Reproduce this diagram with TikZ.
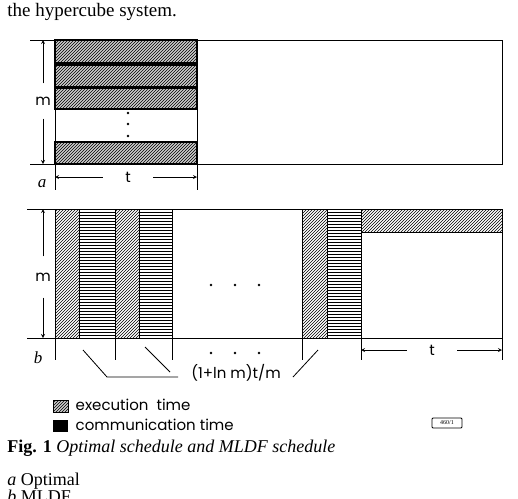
\documentclass[tikz,border=0pt]{standalone}
\usepackage{fontspec}
\setmainfont{Liberation Serif}
\setsansfont{Poppins}
\usetikzlibrary{patterns}

\tikzset{
	exec/.style={draw, thick, pattern=north east lines},
	execdark/.style={draw, very thick, fill=gray!40, postaction={pattern=north east lines}},
	comm/.style={draw, thick, pattern=horizontal lines},
	dim/.style={->, >=stealth},
	lbl/.style={font=\sffamily\fontsize{15}{15}\selectfont},
	serifbig/.style={font=\fontsize{18}{18}\selectfont, inner sep=0pt},
}

\begin{document}
\begin{tikzpicture}[x=1pt,y=-1pt,line width=0.8pt]
	\useasboundingbox (0,0) rectangle (518,498);
%
	\node[serifbig, font=\fontsize{19}{19}\selectfont, anchor=base west] (prevline) at (7,16) {the hypercube system.};
%
	% (a) optimal schedule
	\draw (30,40) -- (502,40) -- (502,164) -- (30,164);
	\draw (55,40) -- (55,190);
	\draw (197,40) -- (197,190);
	\foreach \ya/\yb in {40/63,65/87,88/109,142/164}
		\draw[execdark] (55,\ya) rectangle (197,\yb);
	\foreach \y in {113,124,136}
		\fill (128,\y) circle (1.4);
%
	\coordinate (mAtop) at (43,40);
	\coordinate (mAbot) at (43,164);
	\node[lbl, inner ysep=13pt] (mA) at (43,101) {m};
	\draw[dim] (mA) -- (mAtop);
	\draw[dim] (mA) -- (mAbot);
	\coordinate (tAleft) at (55,177);
	\coordinate (tAright) at (197,177);
	\node[lbl, inner xsep=22pt] (tA) at (128,177) {t};
	\draw[dim] (tA) -- (tAleft);
	\draw[dim] (tA) -- (tAright);
	\node[serifbig, font=\fontsize{17}{17}\selectfont\itshape] (labA) at (42,184) {a};
%
	% (b) MLDF schedule
	\draw (27,209) -- (502,209);
	\draw (27,338) -- (502,338);
	\foreach \xa/\xb in {55/79,115/139,302/327}
		\draw[exec] (\xa,209) rectangle (\xb,338);
	\foreach \xa/\xb in {79/115,139/172,327/361}
		\draw[comm] (\xa,209) rectangle (\xb,338);
	\draw[exec] (361,209) rectangle (502,232);
	\draw (502,232) -- (502,360);
	\foreach \x in {55,115,172,302,361}
		\draw (\x,338) -- (\x,360);
	\foreach \x in {211,235,259}
	{
		\fill (\x,285) circle (1.4);
		\fill (\x,353) circle (1.4);
	}
%
	\coordinate (mBtop) at (43,209);
	\coordinate (mBbot) at (43,338);
	\node[lbl, inner ysep=16pt] (mB) at (43,277) {m};
	\draw[dim] (mB) -- (mBtop);
	\draw[dim] (mB) -- (mBbot);
	\coordinate (tBleft) at (361,350);
	\coordinate (tBright) at (502,350);
	\node[lbl, inner xsep=22pt] (tB) at (432,350) {t};
	\draw[dim] (tB) -- (tBleft);
	\draw[dim] (tB) -- (tBright);
	\node[serifbig, font=\fontsize{17}{17}\selectfont\itshape] (labB) at (38,358) {b};
%
	\node[lbl] (ratio) at (236,373) {(1+ln m)t/m};
	\coordinate (braceA) at (83,350);
	\coordinate (braceB) at (145,347);
	\coordinate (braceC) at (318,350);
	\draw (braceA) -- (107,377) -- (178,377);
	\draw (braceB) -- (170,372);
	\draw (braceC) -- (293,377);
%
	% legend
	\draw[execdark, thin] (53,400) rectangle (68,412);
	\fill (53,420) rectangle (68,432);
	\node[lbl, anchor=west] (execText) at (72,405) {execution\ \ time};
	\node[lbl, anchor=west] (commText) at (72,425) {communication time};
	\node[draw, rounded corners=1pt, font=\fontsize{6}{6}\selectfont, inner sep=1pt,
		minimum width=30pt, minimum height=10pt] (fignum) at (447,423) {460/1};
%
	% caption
	\node[serifbig, anchor=base west] (caption) at (7,452)
		{\textbf{Fig. 1} \textit{Optimal schedule and MLDF schedule}};
	\node[serifbig, anchor=base west] (subA) at (7,485) {\textit{a} Optimal};
	\node[serifbig, anchor=base west] (subB) at (7,502) {\textit{b} MLDF};
\end{tikzpicture}
\end{document}
